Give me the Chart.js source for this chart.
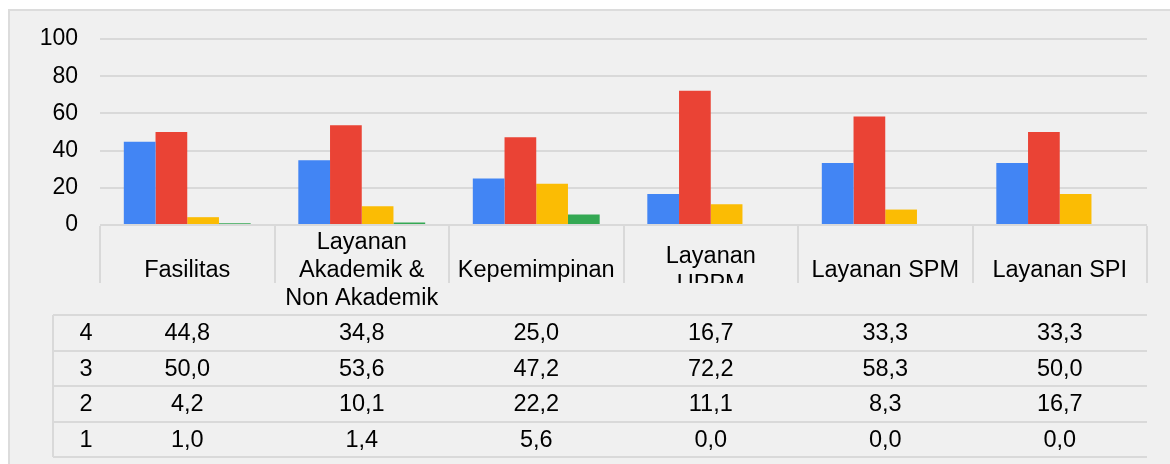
<!DOCTYPE html>
<html>
<head>
<meta charset="utf-8">
<script src="https://cdn.jsdelivr.net/npm/chart.js@4/dist/chart.umd.min.js"></script>
<style>
  body { margin: 0; background: #fff; width: 1170px; height: 464px; overflow: hidden; position: relative; }
  #panel { position: absolute; left: 8px; top: 9px; width: 1170px; height: 470px; background: #f0f0f0;
           border-top: 2px solid #dcdcdc; border-left: 2px solid #dcdcdc; }
  canvas { position: absolute; left: 0; top: 0; }
</style>
</head>
<body>
<div id="panel"></div>
<canvas id="chart" width="1170" height="464"></canvas>
<script>
// header lines of each category (as wrapped in the data table)
const categories = [
  ["Fasilitas"],
  ["Layanan", "Akademik &", "Non Akademik"],
  ["Kepemimpinan"],
  ["Layanan", "UPPM"],
  ["Layanan SPM"],
  ["Layanan SPI"]
]
const seriesNames = ["4", "3", "2", "1"]
const score4 = [44.8, 34.8, 25.0, 16.7, 33.3, 33.3]
const score3 = [50.0, 53.6, 47.2, 72.2, 58.3, 50.0]
const score2 = [4.2, 10.1, 22.2, 11.1, 8.3, 16.7]
const score1 = [1.0, 1.4, 5.6, 0.0, 0.0, 0.0]
const yTicks = [0, 20, 40, 60, 80, 100]

const colors = ["#4285f4", "#ea4335", "#fbbc04", "#34a853"]
const allSeries = [score4, score3, score2, score1]
const font = "Liberation Sans, Arial, sans-serif"
const gridColor = "#d9d9d9"

function fmt(v) {
  return v.toFixed(1).replace(".", ",")
}

// data table under the plot, positioned from the x scale
const tablePlugin = {
  id: "dataTable",
  afterDraw(chart) {
    const ctx = chart.ctx
    const x = chart.scales.x
    const area = chart.chartArea
    const colW = (x.right - x.left) / categories.length
    const headTop = area.bottom + 1
    const headCut = 283
    const rowTop = 315
    const rowH = 35.5
    const labelLeft = 53

    ctx.save()
    ctx.strokeStyle = gridColor
    ctx.lineWidth = 2

    // header column borders
    for (let i = 0; i <= categories.length; i++) {
      const px = Math.round(x.left + i * colW)
      ctx.beginPath()
      ctx.moveTo(px, headTop)
      ctx.lineTo(px, headCut)
      ctx.stroke()
    }
    // row lines
    for (let r = 0; r <= seriesNames.length; r++) {
      const py = Math.round(rowTop + r * rowH)
      ctx.beginPath()
      ctx.moveTo(labelLeft, py)
      ctx.lineTo(x.right, py)
      ctx.stroke()
    }
    ctx.beginPath()
    ctx.moveTo(labelLeft, rowTop)
    ctx.lineTo(labelLeft, rowTop + rowH * seriesNames.length)
    ctx.stroke()

    ctx.fillStyle = "#000"
    ctx.font = "23.5px " + font
    ctx.textAlign = "center"
    ctx.textBaseline = "middle"

    // header text, centred in the header cell
    const headMid = (headTop + rowTop) / 2
    const lineH = 28
    categories.forEach((lines, i) => {
      const cx = x.getPixelForValue(i)
      ctx.save()
      if (lines.length === 2) {
        ctx.beginPath()
        ctx.rect(x.left + i * colW, headTop, colW, headCut - headTop)
        ctx.clip()
      }
      lines.forEach((t, k) => {
        ctx.fillText(t, cx, headMid + (k - (lines.length - 1) / 2) * lineH)
      })
      ctx.restore()
    })

    // rows
    seriesNames.forEach((name, r) => {
      const cy = rowTop + r * rowH + rowH / 2 + 1
      ctx.fillText(name, 86, cy)
      allSeries[r].forEach((v, i) => {
        ctx.fillText(fmt(v), x.getPixelForValue(i), cy)
      })
    })
    ctx.restore()
  }
}

new Chart(document.getElementById("chart"), {
  type: "bar",
  data: {
    labels: categories.map(c => c.join(" ")),
    datasets: seriesNames.map((name, i) => ({
      label: name,
      data: allSeries[i],
      backgroundColor: colors[i],
      borderWidth: 0,
      categoryPercentage: 0.727,
      barPercentage: 1
    }))
  },
  options: {
    responsive: false,
    animation: false,
    layout: { padding: { left: 0, top: 39, right: 23, bottom: 239 } },
    plugins: {
      legend: { display: false },
      tooltip: { enabled: false }
    },
    scales: {
      x: { display: false },
      y: {
        min: 0,
        max: 100,
        afterFit: s => { s.width = 100 },
        afterBuildTicks: s => { s.ticks = yTicks.map(v => ({ value: v })) },
        border: { display: false },
        grid: { color: gridColor, lineWidth: 2, drawTicks: false },
        ticks: {
          padding: 22,
          color: "#000",
          font: { family: font, size: 23 }
        }
      }
    }
  },
  plugins: [tablePlugin]
})
</script>
</body>
</html>
